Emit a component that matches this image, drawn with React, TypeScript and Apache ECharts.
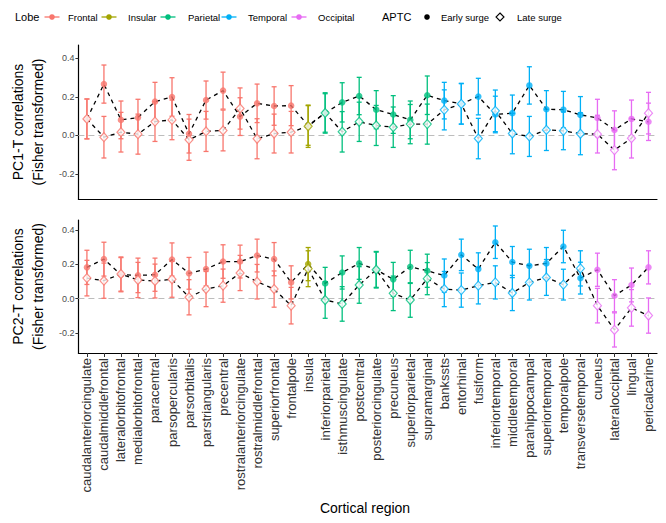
import React, { useEffect, useRef } from "react";
import * as echarts from "echarts";

const regions = [
  "caudalanteriorcingulate", "caudalmiddlefrontal", "lateralorbitofrontal", "medialorbitofrontal",
  "paracentral", "parsopercularis", "parsorbitalis", "parstriangularis", "precentral",
  "rostralanteriorcingulate", "rostralmiddlefrontal", "superiorfrontal", "frontalpole",
  "insula",
  "inferiorparietal", "isthmuscingulate", "postcentral", "posteriorcingulate", "precuneus",
  "superiorparietal", "supramarginal",
  "bankssts", "entorhinal", "fusiform", "inferiortemporal", "middletemporal", "parahippocampal",
  "superiortemporal", "temporalpole", "transversetemporal",
  "cuneus", "lateraloccipital", "lingual", "pericalcarine",
];

const regionLobe = [
  "Frontal", "Frontal", "Frontal", "Frontal", "Frontal", "Frontal", "Frontal", "Frontal", "Frontal",
  "Frontal", "Frontal", "Frontal", "Frontal",
  "Insular",
  "Parietal", "Parietal", "Parietal", "Parietal", "Parietal", "Parietal", "Parietal",
  "Temporal", "Temporal", "Temporal", "Temporal", "Temporal", "Temporal", "Temporal", "Temporal", "Temporal",
  "Occipital", "Occipital", "Occipital", "Occipital",
];

const lobes = ["Frontal", "Insular", "Parietal", "Temporal", "Occipital"];
const lobeColors = ["#F8766D", "#A3A500", "#00BF7D", "#00B0F6", "#E76BF3"];

// PC1-T panel
const pc1Early = [0.086, 0.267, 0.081, 0.093, 0.176, 0.2, 0.009, 0.184, 0.233, 0.098, 0.167, 0.153, 0.155, 0.052, 0.117, 0.172, 0.205, 0.134, 0.109, 0.081, 0.209, 0.181, 0.165, 0.202, 0.109, 0.116, 0.26, 0.136, 0.134, 0.107, 0.091, 0.029, 0.086, 0.071];
const pc1Late = [0.086, -0.009, 0.017, 0.007, 0.072, 0.081, -0.022, 0.021, 0.026, 0.14, -0.017, 0.01, 0.017, 0.048, 0.117, 0.019, 0.071, 0.052, 0.043, 0.059, 0.059, 0.133, 0.164, -0.016, 0.128, 0.01, -0.005, 0.029, 0.024, 0.009, 0.007, -0.076, -0.014, 0.116];
const pc1EarlyErr = [0.104, 0.099, 0.098, 0.095, 0.1, 0.1, 0.1, 0.099, 0.096, 0.098, 0.1, 0.1, 0.104, 0.103, 0.105, 0.102, 0.097, 0.099, 0.098, 0.098, 0.1, 0.095, 0.106, 0.095, 0.095, 0.094, 0.097, 0.097, 0.095, 0.095, 0.097, 0.099, 0.098, 0.097];
const pc1LateErr = [0.103, 0.108, 0.103, 0.104, 0.103, 0.103, 0.107, 0.104, 0.106, 0.107, 0.104, 0.101, 0.108, 0.11, 0.1, 0.105, 0.102, 0.104, 0.105, 0.102, 0.104, 0.104, 0.105, 0.105, 0.108, 0.105, 0.104, 0.107, 0.098, 0.109, 0.098, 0.102, 0.103, 0.108];

// PC2-T panel
const pc2Early = [0.183, 0.231, 0.14, 0.136, 0.14, 0.229, 0.148, 0.173, 0.217, 0.217, 0.252, 0.231, 0.095, 0.202, 0.089, 0.153, 0.206, 0.169, 0.113, 0.186, 0.163, 0.135, 0.256, 0.173, 0.33, 0.214, 0.192, 0.206, 0.305, 0.12, 0.169, 0.017, 0.08, 0.183];
const pc2Late = [0.12, 0.105, 0.144, 0.109, 0.103, 0.113, 0.008, 0.056, 0.076, 0.15, 0.099, 0.056, -0.041, 0.175, -0.008, -0.031, 0.08, 0.169, 0.031, -0.008, 0.117, 0.056, 0.05, 0.076, 0.095, 0.033, 0.095, 0.124, 0.082, 0.177, -0.041, -0.183, -0.054, -0.099];
const pc2EarlyErr = [0.1, 0.099, 0.1, 0.101, 0.097, 0.097, 0.093, 0.099, 0.098, 0.096, 0.096, 0.097, 0.097, 0.097, 0.094, 0.097, 0.093, 0.103, 0.099, 0.097, 0.097, 0.097, 0.092, 0.095, 0.095, 0.091, 0.097, 0.093, 0.095, 0.093, 0.097, 0.094, 0.099, 0.097];
const pc2LateErr = [0.104, 0.103, 0.1, 0.103, 0.099, 0.105, 0.103, 0.103, 0.097, 0.103, 0.101, 0.106, 0.107, 0.105, 0.107, 0.101, 0.107, 0.107, 0.101, 0.101, 0.094, 0.103, 0.1, 0.107, 0.097, 0.103, 0.103, 0.105, 0.09, 0.103, 0.101, 0.1, 0.107, 0.103];

const yTicks = [-0.2, 0, 0.2, 0.4];
const panelTitles = ["PC1-T correlations\n(Fisher transformed)", "PC2-T correlations\n(Fisher transformed)"];
const aptcLabels = ["Early surge", "Late surge"];

const FONT = "Liberation Sans, Arial, Helvetica, sans-serif";

const lobeIdx = regionLobe.map((l) => lobes.indexOf(l));

function renderErrorBar(params: any, api: any) {
  const x = api.value(0);
  const lo = api.coord([x, api.value(1)]);
  const hi = api.coord([x, api.value(2)]);
  const color = lobeColors[api.value(3)];
  const cap = 2.5;
  const style = { stroke: color, lineWidth: 1.3 };
  return {
    type: "group",
    children: [
      { type: "line", shape: { x1: lo[0], y1: lo[1], x2: hi[0], y2: hi[1] }, style },
      { type: "line", shape: { x1: lo[0] - cap, y1: lo[1], x2: lo[0] + cap, y2: lo[1] }, style },
      { type: "line", shape: { x1: hi[0] - cap, y1: hi[1], x2: hi[0] + cap, y2: hi[1] }, style },
    ],
  };
}

function panelSeries(g: number, early: number[], late: number[], eErr: number[], lErr: number[]) {
  const bars: number[][] = [];
  regions.forEach((_, i) => {
    bars.push([i, early[i] - eErr[i], early[i] + eErr[i], lobeIdx[i]]);
    bars.push([i, late[i] - lErr[i], late[i] + lErr[i], lobeIdx[i]]);
  });
  const dashed = { color: "#000", width: 1.3, type: [4, 4] as any };
  return [
    {
      type: "custom",
      xAxisIndex: g,
      yAxisIndex: g,
      renderItem: renderErrorBar,
      data: bars,
      encode: { x: 0, y: [1, 2] },
      z: 2,
      silent: true,
    },
    {
      type: "line",
      xAxisIndex: g,
      yAxisIndex: g,
      data: early,
      symbol: "none",
      lineStyle: dashed,
      z: 3,
      silent: true,
      markLine: {
        silent: true,
        symbol: ["none", "none"],
        label: { show: false },
        lineStyle: { color: "#bdbdbd", type: [6, 4], width: 1.2 },
        data: [{ yAxis: 0 }],
        z: 1,
      },
    },
    {
      type: "line",
      xAxisIndex: g,
      yAxisIndex: g,
      data: late,
      symbol: "none",
      lineStyle: dashed,
      z: 3,
      silent: true,
    },
    {
      type: "scatter",
      xAxisIndex: g,
      yAxisIndex: g,
      symbol: "circle",
      symbolSize: 6.5,
      z: 4,
      data: early.map((v, i) => ({ value: [i, v], itemStyle: { color: lobeColors[lobeIdx[i]] } })),
    },
    {
      type: "scatter",
      xAxisIndex: g,
      yAxisIndex: g,
      symbol: "diamond",
      symbolSize: [8, 9],
      z: 5,
      data: late.map((v, i) => ({
        value: [i, v],
        itemStyle: { color: "#ffffff", borderColor: lobeColors[lobeIdx[i]], borderWidth: 1.2 },
      })),
    },
  ];
}

function yAxisFor(g: number, min: number, max: number) {
  return {
    type: "value",
    gridIndex: g,
    min,
    max,
    axisLine: { show: true, onZero: false, lineStyle: { color: "#000", width: 1.2 } },
    axisTick: { show: true, length: 3, customValues: yTicks, lineStyle: { color: "#333" } },
    axisLabel: {
      customValues: yTicks,
      formatter: (v: number) => v.toFixed(1),
      fontSize: 9,
      color: "#4d4d4d",
      margin: 4,
      fontFamily: FONT,
    },
    splitLine: { show: false },
    name: panelTitles[g],
    nameLocation: "middle",
    nameRotate: 90,
    nameGap: 28,
    nameTextStyle: { fontSize: 14, color: "#000", lineHeight: 20, fontFamily: FONT },
  };
}

function xAxisFor(g: number, showLabels: boolean) {
  return {
    type: "category",
    gridIndex: g,
    data: regions,
    boundaryGap: true,
    axisLine: { show: true, onZero: false, lineStyle: { color: "#000", width: 1.2 } },
    axisTick: { show: showLabels, length: 4, alignWithLabel: true, interval: 0, lineStyle: { color: "#333" } },
    axisLabel: {
      show: showLabels,
      rotate: 90,
      interval: 0,
      fontSize: 13,
      color: "#333",
      margin: 5,
      fontFamily: FONT,
    },
    splitLine: { show: false },
  };
}

function legendGraphics() {
  const y = 17;
  const els: any[] = [];
  els.push({ type: "text", x: 15, y, style: { text: "Lobe", fontSize: 11, fill: "#000", fontFamily: FONT, verticalAlign: "middle" } });
  const markerX = [52, 109, 168, 229, 299];
  const textX = [68, 128, 188, 248, 318];
  lobes.forEach((l, k) => {
    els.push({ type: "line", shape: { x1: markerX[k] - 7.5, y1: y, x2: markerX[k] + 7.5, y2: y }, style: { stroke: lobeColors[k], lineWidth: 1.3 } });
    els.push({ type: "circle", shape: { cx: markerX[k], cy: y, r: 2.8 }, style: { fill: lobeColors[k] } });
    els.push({ type: "text", x: textX[k], y, style: { text: l, fontSize: 9.5, fill: "#000", fontFamily: FONT, verticalAlign: "middle" } });
  });
  els.push({ type: "text", x: 382, y, style: { text: "APTC", fontSize: 11, fill: "#000", fontFamily: FONT, verticalAlign: "middle" } });
  els.push({ type: "circle", shape: { cx: 427, cy: y, r: 2.8 }, style: { fill: "#000" } });
  els.push({ type: "text", x: 441, y, style: { text: aptcLabels[0], fontSize: 9.5, fill: "#000", fontFamily: FONT, verticalAlign: "middle" } });
  els.push({ type: "polygon", shape: { points: [[500, y - 4], [504, y], [500, y + 4], [496, y]] }, style: { fill: "#fff", stroke: "#000", lineWidth: 1.1 } });
  els.push({ type: "text", x: 517, y, style: { text: aptcLabels[1], fontSize: 9.5, fill: "#000", fontFamily: FONT, verticalAlign: "middle" } });
  els.push({ type: "text", x: 365, y: 508, style: { text: "Cortical region", fontSize: 14, fill: "#000", fontFamily: FONT, align: "center", verticalAlign: "middle" } });
  return els;
}

export default function App() {
  const ref = useRef<HTMLDivElement>(null);
  useEffect(() => {
    document.body.style.margin = "0";
    const chart = echarts.init(ref.current!, null, { renderer: "svg" });
    chart.setOption({
      animation: false,
      backgroundColor: "#ffffff",
      textStyle: { fontFamily: FONT },
      grid: [
        { left: 74, top: 45, width: 583, height: 154 },
        { left: 74, top: 220, width: 583, height: 133 },
      ],
      xAxis: [xAxisFor(0, false), xAxisFor(1, true)],
      yAxis: [yAxisFor(0, -0.33, 0.47), yAxisFor(1, -0.318, 0.46)],
      series: [
        ...panelSeries(0, pc1Early, pc1Late, pc1EarlyErr, pc1LateErr),
        ...panelSeries(1, pc2Early, pc2Late, pc2EarlyErr, pc2LateErr),
      ],
      graphic: legendGraphics(),
    });
    return () => chart.dispose();
  }, []);
  return <div ref={ref} style={{ width: 666, height: 523 }} />;
}
